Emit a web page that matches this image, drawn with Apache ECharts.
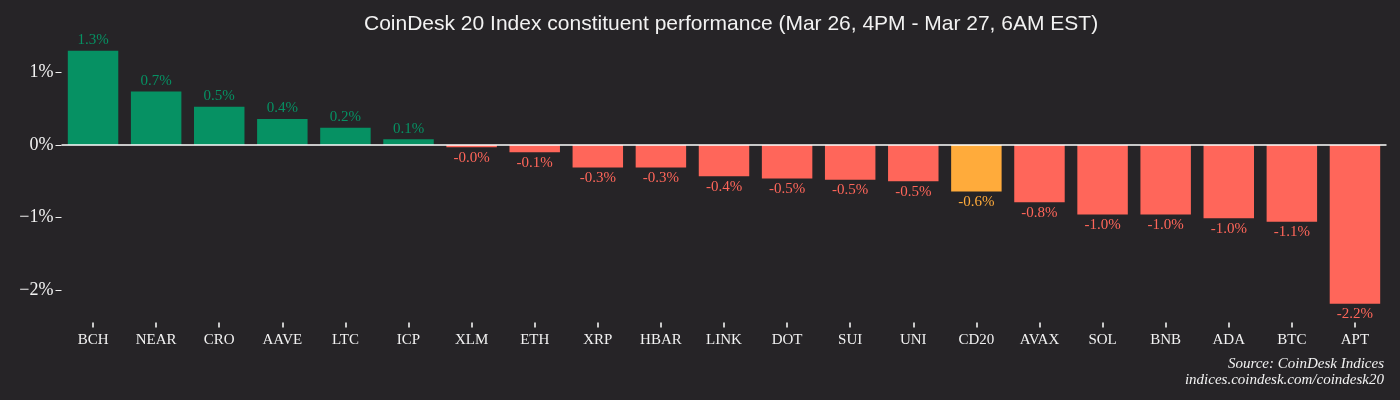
<!DOCTYPE html>
<html>
<head>
<meta charset="utf-8">
<script src="https://cdn.jsdelivr.net/npm/echarts@6/dist/echarts.min.js"></script>
<style>
html,body{margin:0;padding:0;background:#262427;}
#chart{width:1400px;height:400px;}
</style>
</head>
<body>
<div id="chart"></div>
<script>
const categories = ["BCH","NEAR","CRO","AAVE","LTC","ICP","XLM","ETH","XRP","HBAR","LINK","DOT","SUI","UNI","CD20","AVAX","SOL","BNB","ADA","BTC","APT"];
const values = [1.30,0.74,0.53,0.36,0.24,0.08,-0.03,-0.10,-0.31,-0.31,-0.43,-0.46,-0.48,-0.50,-0.64,-0.79,-0.96,-0.96,-1.01,-1.06,-2.19];
const yTicks = [-2,-1,0,1];
const yTickLabels = ["\u22122%","\u22121%","0%","1%"];
const highlightCategory = "CD20";
const titleText = "CoinDesk 20 Index constituent performance (Mar 26, 4PM - Mar 27, 6AM EST)";
const sourceLines = ["Source: CoinDesk Indices","indices.coindesk.com/coindesk20"];

const GREEN = "#069163", RED = "#ff665a", ORANGE = "#ffab3b";
function colorFor(name, v){ if(name===highlightCategory) return ORANGE; return v>=0?GREEN:RED; }

const chart = echarts.init(document.getElementById('chart'));
const serif = '"Liberation Serif", "DejaVu Serif", serif';
chart.setOption({
  backgroundColor: '#262427',
  animation: false,
  title: {
    text: titleText,
    left: 359, top: 9,
    textStyle: {color:'#f2f2f2', fontFamily:'"Liberation Sans", Arial, sans-serif', fontSize:21, fontWeight:'normal'}
  },
  grid: {left: 61.5, right: 13.5, top: 40, bottom: 82.5, containLabel:false},
  xAxis: {
    type:'category', data: categories, offset: 5,
    axisLine:{show:false, onZero:false},
    axisTick:{show:true, alignWithLabel:true, length:5, lineStyle:{color:'#ffffff', width:1.5}},
    axisLabel:{color:'#f2f2f2', fontFamily:serif, fontSize:15, margin:10, interval:0}
  },
  yAxis: {
    type:'value', min:-2.38, max:1.45,
    splitLine:{show:false},
    axisLine:{show:false},
    axisTick:{show:true, length:6, customValues: yTicks, lineStyle:{color:'#eeeeee', width:1}},
    axisLabel:{color:'#f2f2f2', fontFamily:serif, fontSize:18, margin:8, customValues: yTicks,
      formatter: function(v){ const i = yTicks.indexOf(Math.round(v)); return i>=0? yTickLabels[i] : ''; }}
  },
  series: [{
    type:'bar',
    barCategoryGap:'20%',
    data: values.map((v,i)=>({
      value:v,
      itemStyle:{color:colorFor(categories[i], v)},
      label:{show:true, position: v>=0?'top':'bottom', distance:3,
        color:colorFor(categories[i], v), fontFamily:serif, fontSize:15,
        formatter: function(p){ return p.value.toFixed(1)+'%'; }}
    })),
    markLine:{
      silent:true, symbol:['none','none'],
      label:{show:false},
      lineStyle:{color:'#ffffff', width:1.5, type:'solid'},
      data:[{yAxis:0}]
    }
  }],
  graphic: [
    {type:'text', right: 16, top: 357,
     style:{text: sourceLines[0], fill:'#f2f2f2', font:'italic 15px "Liberation Serif", serif'}},
    {type:'text', right: 16, top: 373,
     style:{text: sourceLines[1], fill:'#f2f2f2', font:'italic 15px "Liberation Serif", serif'}}
  ]
});
</script>
</body>
</html>
